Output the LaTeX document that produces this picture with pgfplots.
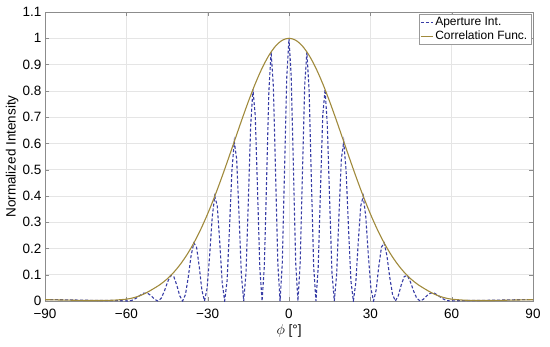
\documentclass[border=0pt]{standalone}
\usepackage{fontspec}
\setmainfont{Liberation Sans}
\usepackage{pgfplots}
\pgfplotsset{compat=1.18}

\definecolor{apblue}{RGB}{55,60,165}
\definecolor{corrolive}{RGB}{160,138,60}

\begin{document}
\begin{tikzpicture}
\begin{axis}[
    scale only axis,
    width=488pt, height=289pt,
    xmin=-90, xmax=90, ymin=0, ymax=1.1,
    xtick={-90,-60,-30,0,30,60,90},
    xticklabels={−90,−60,−30,0,30,60,90},
    ytick={0,0.1,...,1.1},
    yticklabel style={/pgf/number format/.cd, fixed, precision=1, assume math mode=true},
    tick label style={font=\fontsize{13.5}{15}\selectfont},
    label style={font=\fontsize{13.5}{15}\selectfont},
    xticklabel style={yshift=-4.5pt},
    xlabel={$\phi$ [°]},
    ylabel={Normalized Intensity},
    xlabel style={at={(axis description cs:0.5,-0.103)}, anchor=center},
    ylabel style={at={(axis description cs:-0.0676,0.5)}, anchor=center},
    grid=major,
    major grid style={black!10, line width=0.5pt},
    axis line style={black!45},
    tick style={black!45},
    tick align=inside,
    major tick length=4pt,
    legend style={at={(0.996,0.993)}, anchor=north east, draw=black!40,
        font=\fontsize{12}{13.5}\selectfont, inner sep=1.5pt, row sep=-0.5pt,
        legend cell align=left},
    legend image code/.code={\draw[#1] (0pt,0pt) -- (12pt,0pt);},
]
\addplot[apblue, line width=1.1pt, dash pattern=on 3pt off 2pt] coordinates {
(-90,0.005) (-85,0.005) (-80,0.004) (-75,0.003) (-70,0.002) (-66,0.002) (-62,0.001)
(-59.60,0) (-58.01,0.002) (-56.49,0.010) (-55.02,0.021) (-53.61,0.030) (-52.25,0.030)
(-50.92,0.021) (-49.63,0.007) (-48.38,0) (-47.15,0.010) (-45.95,0.038) (-44.78,0.073)
(-43.63,0.097) (-42.50,0.093) (-41.40,0.061) (-40.31,0.020) (-39.24,0) (-38.18,0.025)
(-37.14,0.092) (-36.11,0.173) (-35.10,0.221) (-34.10,0.205) (-33.11,0.131) (-32.13,0.041)
(-31.17,0) (-30.21,0.048) (-29.26,0.175) (-28.32,0.320) (-27.39,0.399) (-26.46,0.362)
(-25.55,0.225) (-24.64,0.070) (-23.74,0) (-22.84,0.077) (-21.95,0.277) (-21.06,0.496)
(-20.18,0.607) (-19.31,0.541) (-18.44,0.330) (-17.57,0.100) (-16.71,0) (-15.85,0.108)
(-15.00,0.380) (-14.14,0.668) (-13.30,0.805) (-12.45,0.706) (-11.61,0.424) (-10.77,0.127)
(-9.93,0) (-9.10,0.132) (-8.26,0.460) (-7.43,0.798) (-6.60,0.948) (-5.78,0.819)
(-4.95,0.485) (-4.12,0.143) (-3.30,0) (-2.47,0.145) (-1.65,0.498) (-0.82,0.853)
(0,1.000)
(0.82,0.853) (1.65,0.498) (2.47,0.145) (3.30,0) (4.12,0.143) (4.95,0.485)
(5.78,0.819) (6.60,0.948) (7.43,0.798) (8.26,0.460) (9.10,0.132) (9.93,0)
(10.77,0.127) (11.61,0.424) (12.45,0.706) (13.30,0.805) (14.14,0.668) (15.00,0.380)
(15.85,0.108) (16.71,0) (17.57,0.100) (18.44,0.330) (19.31,0.541) (20.18,0.607)
(21.06,0.496) (21.95,0.277) (22.84,0.077) (23.74,0) (24.64,0.070) (25.55,0.225)
(26.46,0.362) (27.39,0.399) (28.32,0.320) (29.26,0.175) (30.21,0.048) (31.17,0)
(32.13,0.041) (33.11,0.131) (34.10,0.205) (35.10,0.221) (36.11,0.173) (37.14,0.092)
(38.18,0.025) (39.24,0) (40.31,0.020) (41.40,0.061) (42.50,0.093) (43.63,0.097)
(44.78,0.073) (45.95,0.038) (47.15,0.010) (48.38,0) (49.63,0.007) (50.92,0.021)
(52.25,0.030) (53.61,0.030) (55.02,0.021) (56.49,0.010) (58.01,0.002) (59.60,0)
(62,0.001) (66,0.002) (70,0.002) (75,0.003) (80,0.004) (85,0.005) (90,0.005)
};
\addlegendentry{Aperture Int.}
\addplot[corrolive, line width=1.1pt, smooth] coordinates {
(-90,0.005) (-85,0.004) (-80,0.003) (-75,0.002) (-70,0.002) (-65,0.003) (-60,0.007)
(-57.5,0.012) (-55,0.020) (-52.5,0.032) (-50,0.0467) (-47.5,0.0630) (-45,0.0836)
(-42.5,0.1093) (-40,0.1408) (-37.5,0.1785) (-35,0.2229) (-32.5,0.2741) (-30,0.3319)
(-27.5,0.3958) (-25,0.4649) (-22.5,0.5377) (-20,0.6125) (-17.5,0.6871) (-15,0.7590)
(-12.5,0.8257) (-10,0.8847) (-7.5,0.9334) (-5,0.9698) (-2.5,0.9924) (0,1.0000)
(2.5,0.9924) (5,0.9698) (7.5,0.9334) (10,0.8847) (12.5,0.8257) (15,0.7590)
(17.5,0.6871) (20,0.6125) (22.5,0.5377) (25,0.4649) (27.5,0.3958) (30,0.3319)
(32.5,0.2741) (35,0.2229) (37.5,0.1785) (40,0.1408) (42.5,0.1093) (45,0.0836)
(47.5,0.0630) (50,0.0467) (52.5,0.032) (55,0.020) (57.5,0.012) (60,0.007)
(65,0.003) (70,0.002) (75,0.002) (80,0.003) (85,0.004) (90,0.005)
};
\addlegendentry{Correlation Func.}
\coordinate (sw) at (rel axis cs:0,0);
\coordinate (ne) at (rel axis cs:1,1);
\end{axis}
\path ([xshift=-45pt,yshift=-45pt]sw) rectangle ([xshift=17pt,yshift=12pt]ne);
\end{tikzpicture}
\end{document}
